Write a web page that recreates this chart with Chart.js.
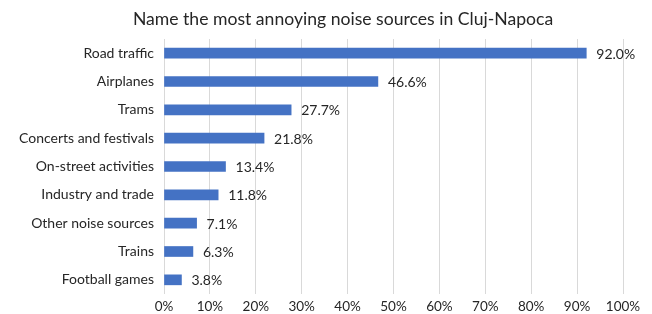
<!DOCTYPE html>
<html>
<head>
<meta charset="utf-8">
<script src="https://cdn.jsdelivr.net/npm/chart.js@4"></script>
<style>
    html, body { margin: 0; padding: 0; background: #fff; }
    #wrap { width: 652px; height: 314px; }
</style>
</head>
<body>
<div id="wrap"><canvas id="noiseChart"></canvas></div>
<script>
// chart data
const categories = ['Road traffic', 'Airplanes', 'Trams', 'Concerts and festivals', 'On-street activities',
    'Industry and trade', 'Other noise sources', 'Trains', 'Football games'];
const shares = [92.0, 46.6, 27.7, 21.8, 13.4, 11.8, 7.1, 6.3, 3.8];
const tickValues = [0, 10, 20, 30, 40, 50, 60, 70, 80, 90, 100];
const chartTitle = 'Name the most annoying noise sources in Cluj-Napoca';

const FONT = 'Lato';
const TEXT = '#262626';

// title, centred a bit right of the canvas middle like the original
const titleText = {
    id: 'titleText',
    afterDraw(chart) {
        const ctx = chart.ctx;
        ctx.save();
        ctx.font = '17.6px ' + FONT;
        ctx.fillStyle = TEXT;
        ctx.textAlign = 'center';
        ctx.textBaseline = 'middle';
        ctx.fillText(chartTitle, 343, 19);
        ctx.restore();
    }
};

// value labels at the end of each bar
const valueLabels = {
    id: 'valueLabels',
    afterDatasetsDraw(chart) {
        const ctx = chart.ctx;
        const meta = chart.getDatasetMeta(0);
        ctx.save();
        ctx.font = '14px ' + FONT;
        ctx.fillStyle = TEXT;
        ctx.textAlign = 'left';
        ctx.textBaseline = 'middle';
        meta.data.forEach((bar, i) => {
            ctx.fillText(shares[i].toFixed(1) + '%', bar.x + 10, bar.y + 1);
        });
        ctx.restore();
    }
};

document.addEventListener('DOMContentLoaded', () => {
    initNoiseChart();
});

function initNoiseChart() {
    const ctx = document.getElementById('noiseChart').getContext('2d');

    new Chart(ctx, {
        type: 'bar',
        data: {
            labels: categories,
            datasets: [{
                data: shares,
                backgroundColor: '#4472C4',
                barThickness: 10
            }]
        },
        options: {
            indexAxis: 'y',
            responsive: true,
            maintainAspectRatio: false,
            animation: false,
            layout: {
                padding: { left: 0, right: 29, top: 39, bottom: 0 }
            },
            plugins: {
                legend: { display: false },
                tooltip: { enabled: false },
                title: { display: false }
            },
            scales: {
                x: {
                    min: 0,
                    max: 100,
                    afterBuildTicks: (scale) => {
                        scale.ticks = tickValues.map(v => ({ value: v }));
                    },
                    afterFit: (scale) => { scale.height = 20; },
                    grid: {
                        color: '#d9d9d9',
                        drawTicks: false
                    },
                    border: { display: false },
                    ticks: {
                        padding: 5,
                        color: TEXT,
                        font: { family: FONT, size: 13.5 },
                        maxRotation: 0,
                        callback: (v) => v + '%'
                    }
                },
                y: {
                    grid: { display: false, drawTicks: false },
                    border: { display: false },
                    afterFit: (scale) => { scale.width = 164; },
                    ticks: {
                        padding: 10,
                        color: TEXT,
                        font: { family: FONT, size: 14 }
                    }
                }
            }
        },
        plugins: [valueLabels, titleText]
    });
}
</script>
</body>
</html>
